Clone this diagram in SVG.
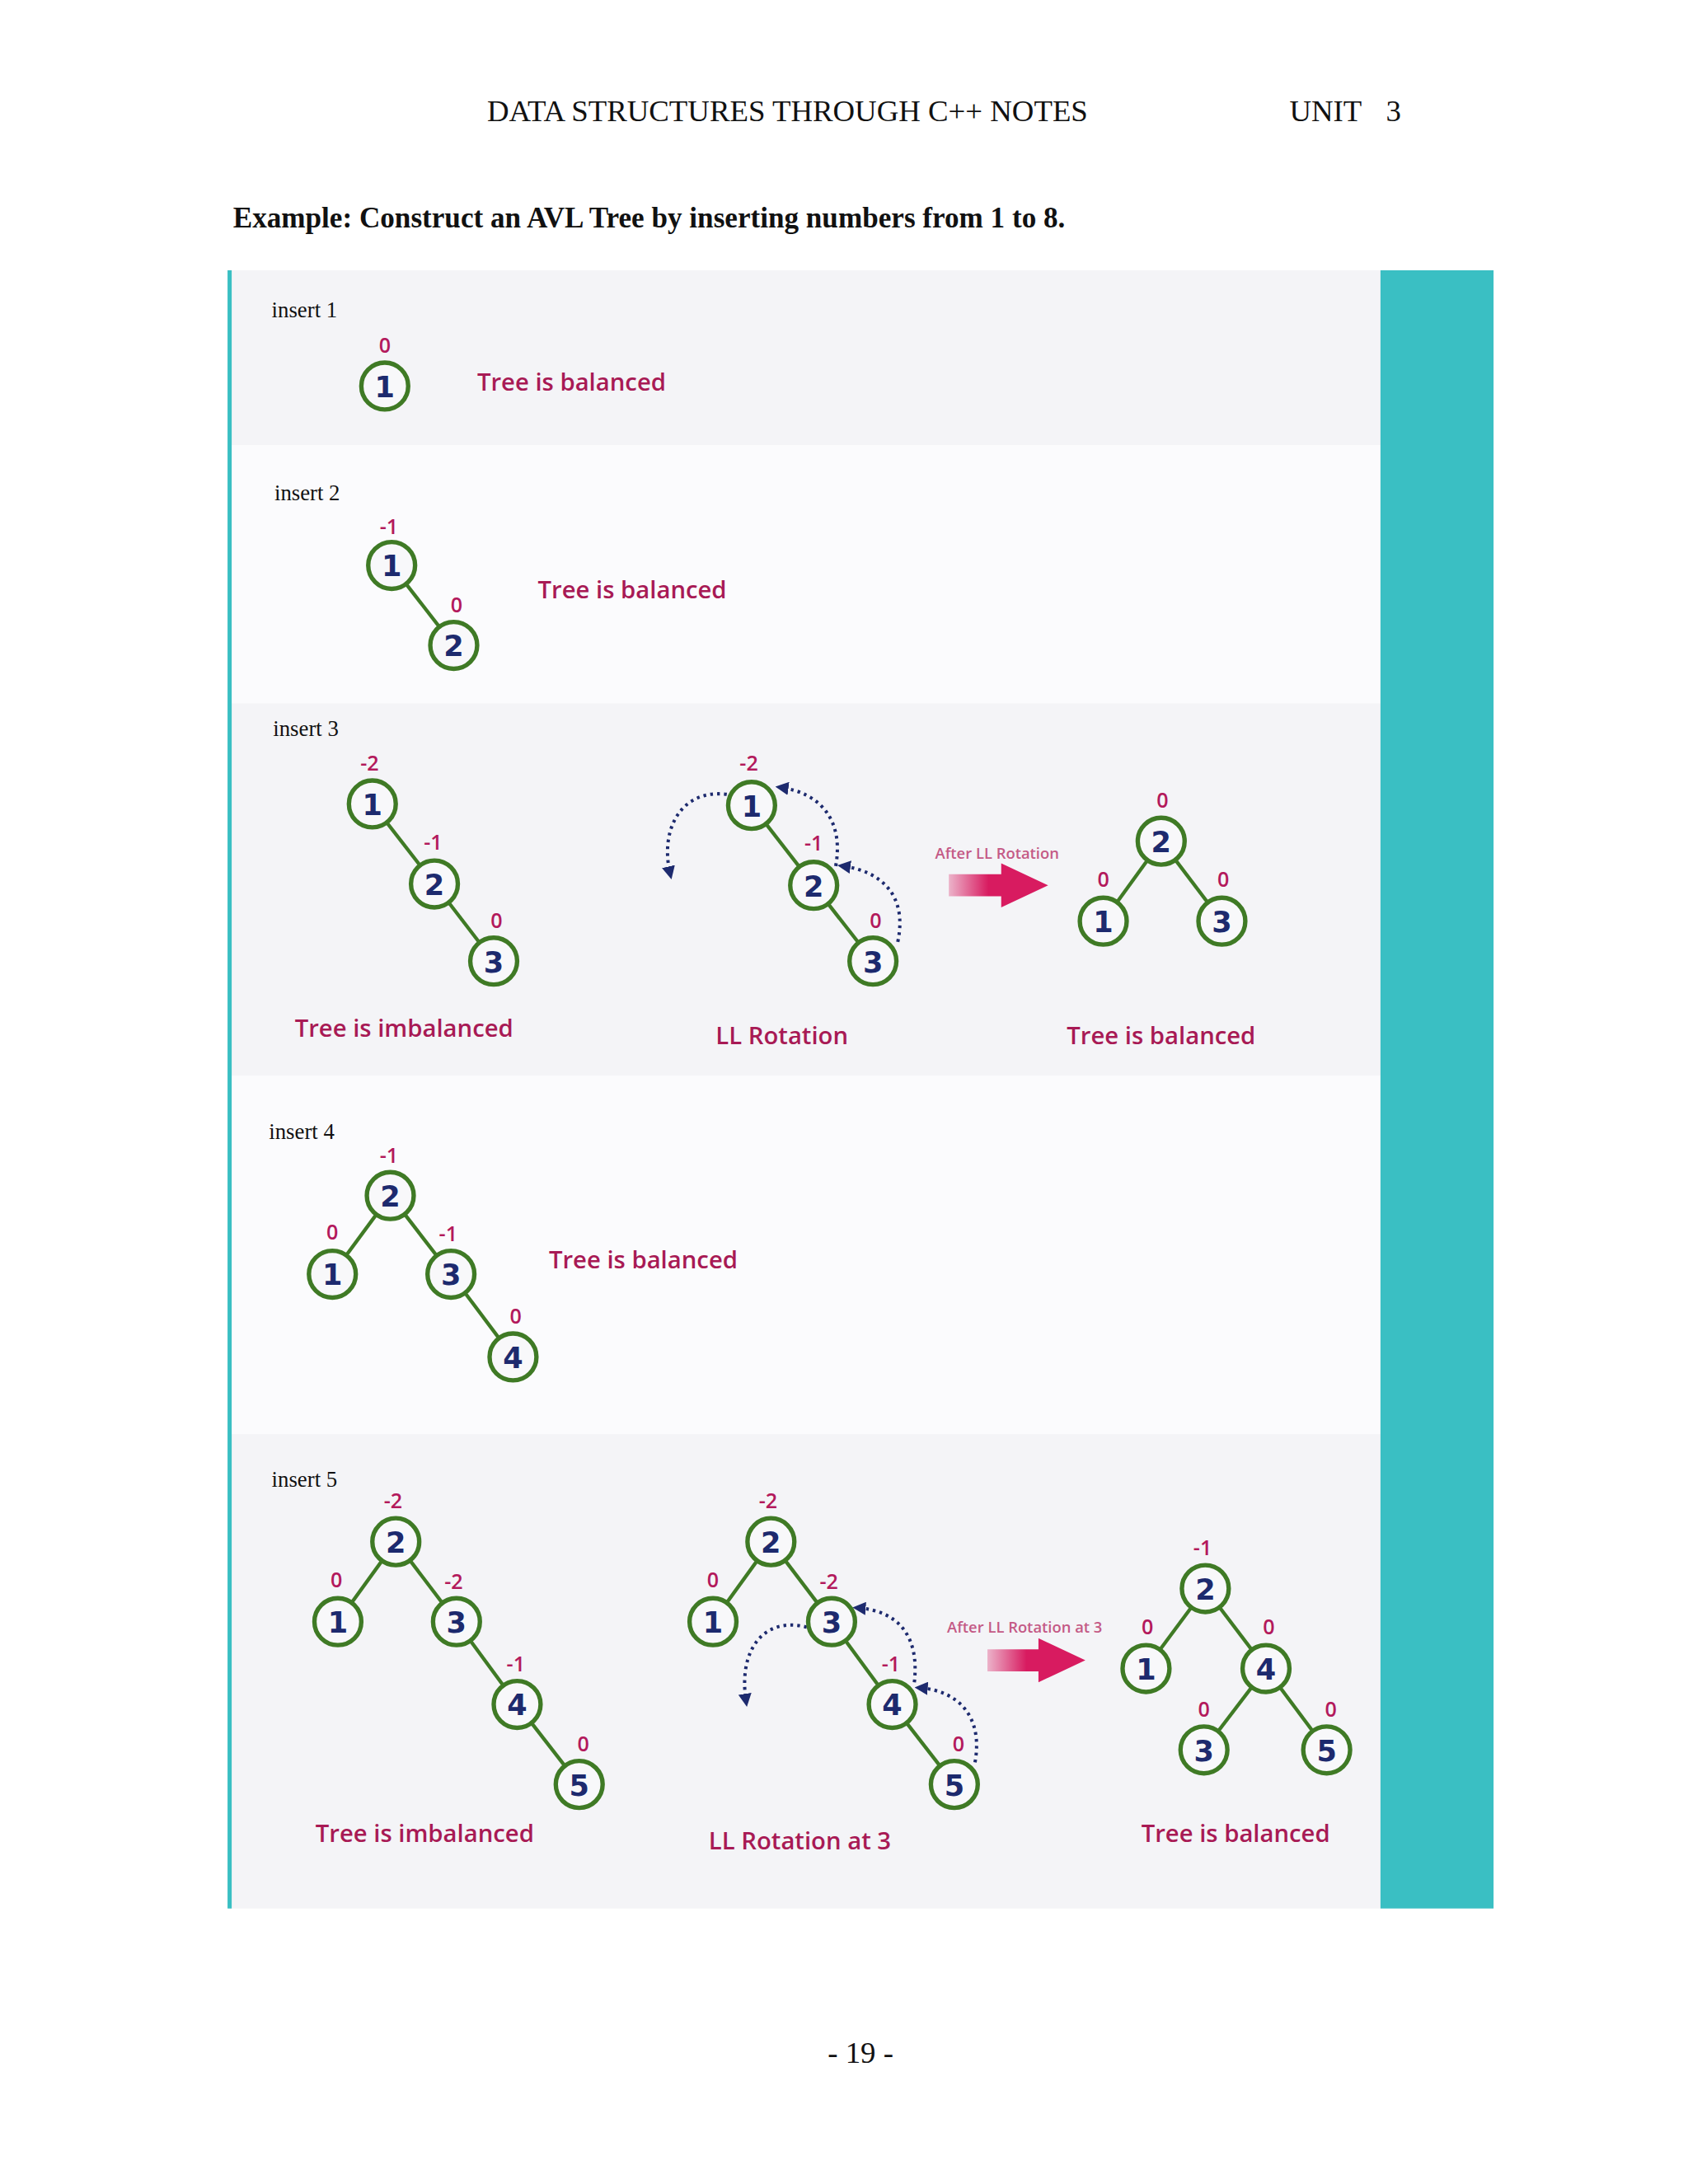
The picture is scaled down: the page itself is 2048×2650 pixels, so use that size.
<svg xmlns="http://www.w3.org/2000/svg" width="2048" height="2650" viewBox="0 0 2048 2650">
<style>
.hd{font-family:"Liberation Serif",serif;font-size:22px;fill:#111}
.ins{font-family:"Liberation Serif",serif;font-size:16px;fill:#111}
.n circle{fill:#f8f8fa;stroke:#3f7a25;stroke-width:3.2}
.n text{font-family:"DejaVu Sans",sans-serif;font-weight:bold;font-size:21px;fill:#1d2a6e;text-anchor:middle}
.b{font-family:"Open Sans",sans-serif;font-weight:600;font-size:15px;fill:#b3195c;text-anchor:middle}
.msg{font-family:"Open Sans",sans-serif;font-weight:600;font-size:17.5px;fill:#a81a55}
.sm{font-family:"Open Sans",sans-serif;font-weight:600;font-size:11px;fill:#c45a86;text-anchor:middle}
.e line{stroke:#3f7a25;stroke-width:2.6}
.d{fill:none;stroke:#1d2a6e;stroke-width:2.4;stroke-dasharray:2 3;marker-end:url(#ah)}
</style>
<defs>
<marker id="ah" viewBox="0 0 10 10" refX="6" refY="5" markerWidth="4" markerHeight="4" orient="auto"><path d="M0,0L10,5L0,10z" fill="#1d2a6e"/></marker>
<linearGradient id="pg" x1="0" x2="1"><stop offset="0" stop-color="#d81b60" stop-opacity="0.3"/><stop offset="0.4" stop-color="#d81b60"/></linearGradient>
</defs>
<rect width="2048" height="2650" fill="#fff"/>
<g transform="scale(1.6732)">
<text class="hd" x="571" y="88" text-anchor="middle">DATA STRUCTURES THROUGH C++ NOTES</text>
<text class="hd" x="935" y="88">UNIT</text>
<text class="hd" x="1005" y="88">3</text>
<text x="169" y="165" font-family="Liberation Serif,serif" font-weight="bold" font-size="21" fill="#111">Example: Construct an AVL Tree by inserting numbers from 1 to 8.</text>
<rect x="166" y="196" width="835" height="127" fill="#f4f4f7"/>
<rect x="166" y="323" width="835" height="187" fill="#fbfbfd"/>
<rect x="166" y="510" width="835" height="270" fill="#f4f4f7"/>
<rect x="166" y="780" width="835" height="260" fill="#fbfbfd"/>
<rect x="166" y="1040" width="835" height="344" fill="#f4f4f7"/>
<rect x="1001" y="196" width="82" height="1188" fill="#3abfc3"/>
<rect x="165" y="196" width="3" height="1188" fill="#3abfc3"/>
<text class="hd" x="624" y="1496" text-anchor="middle">- 19 -</text>

<text class="ins" x="197" y="230">insert 1</text>
<text class="ins" x="199" y="363">insert 2</text>
<text class="ins" x="198" y="534">insert 3</text>
<text class="ins" x="195" y="826">insert 4</text>
<text class="ins" x="197" y="1078">insert 5</text>

<g id="connectors" class="e">
<line x1="284" y1="410" x2="329" y2="468"/>
<line x1="270" y1="583" x2="315" y2="641"/><line x1="315" y1="641" x2="358" y2="697"/>
<line x1="545" y1="584" x2="590" y2="642"/><line x1="590" y1="642" x2="633" y2="697"/>
<line x1="842" y1="610" x2="800" y2="668"/><line x1="842" y1="610" x2="886" y2="668"/>
<line x1="283" y1="867" x2="241" y2="924"/><line x1="283" y1="867" x2="327" y2="924"/><line x1="327" y1="924" x2="372" y2="984"/>
<line x1="287" y1="1118" x2="245" y2="1176"/><line x1="287" y1="1118" x2="331" y2="1176"/><line x1="331" y1="1176" x2="375" y2="1236"/><line x1="375" y1="1236" x2="420" y2="1294"/>
<line x1="559" y1="1118" x2="517" y2="1176"/><line x1="559" y1="1118" x2="603" y2="1176"/><line x1="603" y1="1176" x2="647" y2="1236"/><line x1="647" y1="1236" x2="692" y2="1294"/>
<line x1="874" y1="1152" x2="831" y2="1210"/><line x1="874" y1="1152" x2="918" y2="1210"/><line x1="918" y1="1210" x2="873" y2="1269"/><line x1="918" y1="1210" x2="962" y2="1269"/>
<path class="d" d="M527,576 C495,572 478,600 486,634"/>
<path class="d" d="M606,628 C612,595 595,575 566,571"/>
<path class="d" d="M651,683 C658,650 640,632 611,628"/>
<path class="d" d="M585,1180 C555,1172 535,1195 541,1234"/>
<path class="d" d="M663,1220 C667,1185 650,1168 622,1166"/>
<path class="d" d="M707,1278 C713,1245 695,1226 667,1224"/>
</g>

<g id="t1"><g class="n"><circle cx="279" cy="280" r="17"/><text x="279" y="288">1</text></g><text class="b" x="279" y="256">0</text></g>
<text class="msg" x="346" y="283">Tree is balanced</text>

<g id="t2">
<g class="n"><circle cx="284" cy="410" r="17"/><text x="284" y="418">1</text></g><text class="b" x="282" y="387">-1</text>
<g class="n"><circle cx="329" cy="468" r="17"/><text x="329" y="476">2</text></g><text class="b" x="331" y="444">0</text>
</g>
<text class="msg" x="390" y="434">Tree is balanced</text>

<g id="t3a">
<g class="n"><circle cx="270" cy="583" r="17"/><text x="270" y="591">1</text></g><text class="b" x="268" y="559">-2</text>
<g class="n"><circle cx="315" cy="641" r="17"/><text x="315" y="649">2</text></g><text class="b" x="314" y="616">-1</text>
<g class="n"><circle cx="358" cy="697" r="17"/><text x="358" y="705">3</text></g><text class="b" x="360" y="673">0</text>
</g>
<text class="msg" x="293" y="752" text-anchor="middle">Tree is imbalanced</text>
<g id="t3b">
<g class="n"><circle cx="545" cy="584" r="17"/><text x="545" y="592">1</text></g><text class="b" x="543" y="559">-2</text>
<g class="n"><circle cx="590" cy="642" r="17"/><text x="590" y="650">2</text></g><text class="b" x="590" y="617">-1</text>
<g class="n"><circle cx="633" cy="697" r="17"/><text x="633" y="705">3</text></g><text class="b" x="635" y="673">0</text>
</g>
<text class="msg" x="567" y="757" text-anchor="middle">LL Rotation</text>
<text class="sm" x="723" y="623">After LL Rotation</text>
<path d="M688,634 H726 V626 L760,642 L726,658 V650 H688 Z" fill="url(#pg)"/>
<g id="t3c">
<g class="n"><circle cx="842" cy="610" r="17"/><text x="842" y="618">2</text></g><text class="b" x="843" y="586">0</text>
<g class="n"><circle cx="800" cy="668" r="17"/><text x="800" y="676">1</text></g><text class="b" x="800" y="643">0</text>
<g class="n"><circle cx="886" cy="668" r="17"/><text x="886" y="676">3</text></g><text class="b" x="887" y="643">0</text>
</g>
<text class="msg" x="842" y="757" text-anchor="middle">Tree is balanced</text>

<g id="t4">
<g class="n"><circle cx="283" cy="867" r="17"/><text x="283" y="875">2</text></g><text class="b" x="282" y="843">-1</text>
<g class="n"><circle cx="241" cy="924" r="17"/><text x="241" y="932">1</text></g><text class="b" x="241" y="899">0</text>
<g class="n"><circle cx="327" cy="924" r="17"/><text x="327" y="932">3</text></g><text class="b" x="325" y="900">-1</text>
<g class="n"><circle cx="372" cy="984" r="17"/><text x="372" y="992">4</text></g><text class="b" x="374" y="960">0</text>
</g>
<text class="msg" x="398" y="920">Tree is balanced</text>

<g id="t5a">
<g class="n"><circle cx="287" cy="1118" r="17"/><text x="287" y="1126">2</text></g><text class="b" x="285" y="1094">-2</text>
<g class="n"><circle cx="245" cy="1176" r="17"/><text x="245" y="1184">1</text></g><text class="b" x="244" y="1151">0</text>
<g class="n"><circle cx="331" cy="1176" r="17"/><text x="331" y="1184">3</text></g><text class="b" x="329" y="1152">-2</text>
<g class="n"><circle cx="375" cy="1236" r="17"/><text x="375" y="1244">4</text></g><text class="b" x="374" y="1212">-1</text>
<g class="n"><circle cx="420" cy="1294" r="17"/><text x="420" y="1302">5</text></g><text class="b" x="423" y="1270">0</text>
</g>
<text class="msg" x="308" y="1336" text-anchor="middle">Tree is imbalanced</text>
<g id="t5b">
<g class="n"><circle cx="559" cy="1118" r="17"/><text x="559" y="1126">2</text></g><text class="b" x="557" y="1094">-2</text>
<g class="n"><circle cx="517" cy="1176" r="17"/><text x="517" y="1184">1</text></g><text class="b" x="517" y="1151">0</text>
<g class="n"><circle cx="603" cy="1176" r="17"/><text x="603" y="1184">3</text></g><text class="b" x="601" y="1152">-2</text>
<g class="n"><circle cx="647" cy="1236" r="17"/><text x="647" y="1244">4</text></g><text class="b" x="646" y="1212">-1</text>
<g class="n"><circle cx="692" cy="1294" r="17"/><text x="692" y="1302">5</text></g><text class="b" x="695" y="1270">0</text>
</g>
<text class="msg" x="580" y="1341" text-anchor="middle">LL Rotation at 3</text>
<text class="sm" x="743" y="1184">After LL Rotation at 3</text>
<path d="M716,1196 H753 V1188 L787,1204 L753,1220 V1212 H716 Z" fill="url(#pg)"/>
<g id="t5c">
<g class="n"><circle cx="874" cy="1152" r="17"/><text x="874" y="1160">2</text></g><text class="b" x="872" y="1128">-1</text>
<g class="n"><circle cx="831" cy="1210" r="17"/><text x="831" y="1218">1</text></g><text class="b" x="832" y="1185">0</text>
<g class="n"><circle cx="918" cy="1210" r="17"/><text x="918" y="1218">4</text></g><text class="b" x="920" y="1185">0</text>
<g class="n"><circle cx="873" cy="1269" r="17"/><text x="873" y="1277">3</text></g><text class="b" x="873" y="1245">0</text>
<g class="n"><circle cx="962" cy="1269" r="17"/><text x="962" y="1277">5</text></g><text class="b" x="965" y="1245">0</text>
</g>
<text class="msg" x="896" y="1336" text-anchor="middle">Tree is balanced</text>
</g>
</svg>
